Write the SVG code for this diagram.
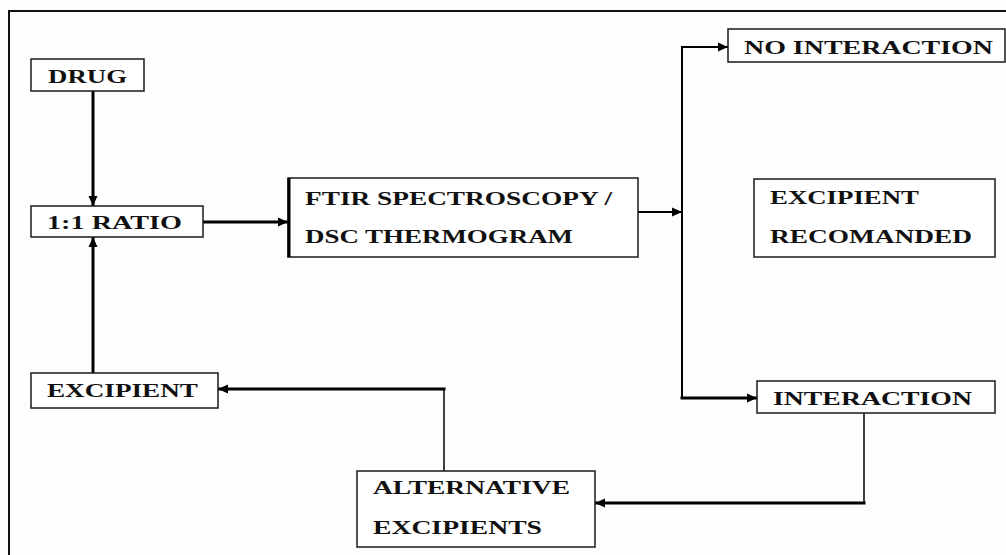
<svg xmlns="http://www.w3.org/2000/svg" width="1006" height="555" viewBox="0 0 1006 555">
  <defs>
    <style>
      .box { fill: #ffffff; stroke: #1a1a1a; stroke-width: 1.5; }
      .lbl { font-family: "Liberation Serif", "Times New Roman", serif; font-weight: bold; font-size: 18px; fill: #111111; }
      .wire { fill: none; stroke: #000000; stroke-linecap: square; }
      .thick { stroke-width: 3; }
      .mid { stroke-width: 2; }
      .thin { stroke-width: 1.5; }
    </style>
    <marker id="arrow" markerUnits="userSpaceOnUse" markerWidth="10" markerHeight="10" viewBox="0 0 10 10" refX="10" refY="5" orient="auto">
      <path d="M0,0.5 L10,5 L0,9.5 Z" fill="#000000"/>
    </marker>
  </defs>

  <rect x="0" y="0" width="1006" height="555" fill="#fdfdfd"/>

  <!-- outer frame -->
  <path d="M9,555 V11 H1006" fill="none" stroke="#111111" stroke-width="2"/>

  <!-- connectors -->
  <g id="connectors">
    <line class="wire thick" x1="93" y1="91" x2="93" y2="206" marker-end="url(#arrow)"/>
    <line class="wire thick" x1="93" y1="373" x2="93" y2="237" marker-end="url(#arrow)"/>
    <line class="wire thick" x1="203" y1="222" x2="288" y2="222" marker-end="url(#arrow)"/>
    <line class="wire mid" x1="638" y1="212" x2="682" y2="212" marker-end="url(#arrow)"/>
    <line class="wire mid" x1="682" y1="47" x2="682" y2="398"/>
    <line class="wire mid" x1="682" y1="47" x2="728" y2="47" marker-end="url(#arrow)"/>
    <line class="wire thick" x1="682" y1="398" x2="757" y2="398" marker-end="url(#arrow)"/>
    <line class="wire thin" x1="864" y1="413" x2="864" y2="503"/>
    <line class="wire thick" x1="864" y1="503" x2="595" y2="503" marker-end="url(#arrow)"/>
    <line class="wire thin" x1="444" y1="471" x2="444" y2="389"/>
    <line class="wire thick" x1="444" y1="389" x2="218" y2="389" marker-end="url(#arrow)"/>
  </g>

  <g id="drug">
    <rect class="box" x="31" y="59" width="113" height="32"/>
    <text class="lbl" x="48" y="83" textLength="79" lengthAdjust="spacingAndGlyphs">DRUG</text>
  </g>

  <g id="ratio">
    <rect class="box" x="31" y="206" width="172" height="31"/>
    <text class="lbl" x="47" y="229" textLength="135" lengthAdjust="spacingAndGlyphs">1:1 RATIO</text>
  </g>

  <g id="ftir-dsc">
    <rect class="box" x="288" y="178" width="350" height="79"/>
    <line x1="289" y1="178" x2="289" y2="257" stroke="#000000" stroke-width="3"/>
    <text class="lbl" x="305" y="205" textLength="307" lengthAdjust="spacingAndGlyphs">FTIR SPECTROSCOPY /</text>
    <text class="lbl" x="305" y="243" textLength="268" lengthAdjust="spacingAndGlyphs">DSC THERMOGRAM</text>
  </g>

  <g id="no-interaction">
    <rect class="box" x="728" y="29" width="277" height="33"/>
    <text class="lbl" x="744" y="54" textLength="249" lengthAdjust="spacingAndGlyphs">NO INTERACTION</text>
  </g>

  <g id="excipient-recomanded">
    <rect class="box" x="754" y="179" width="241" height="78"/>
    <text class="lbl" x="770" y="204" textLength="149" lengthAdjust="spacingAndGlyphs">EXCIPIENT</text>
    <text class="lbl" x="770" y="243" textLength="202" lengthAdjust="spacingAndGlyphs">RECOMANDED</text>
  </g>

  <g id="interaction">
    <rect class="box" x="757" y="381" width="238" height="32"/>
    <text class="lbl" x="773" y="405" textLength="199" lengthAdjust="spacingAndGlyphs">INTERACTION</text>
  </g>

  <g id="excipient">
    <rect class="box" x="31" y="373" width="187" height="35"/>
    <text class="lbl" x="47" y="397" textLength="151" lengthAdjust="spacingAndGlyphs">EXCIPIENT</text>
  </g>

  <g id="alternative-excipients">
    <rect class="box" x="357" y="471" width="238" height="76"/>
    <text class="lbl" x="373" y="494" textLength="197" lengthAdjust="spacingAndGlyphs">ALTERNATIVE</text>
    <text class="lbl" x="373" y="534" textLength="169" lengthAdjust="spacingAndGlyphs">EXCIPIENTS</text>
  </g>
</svg>
